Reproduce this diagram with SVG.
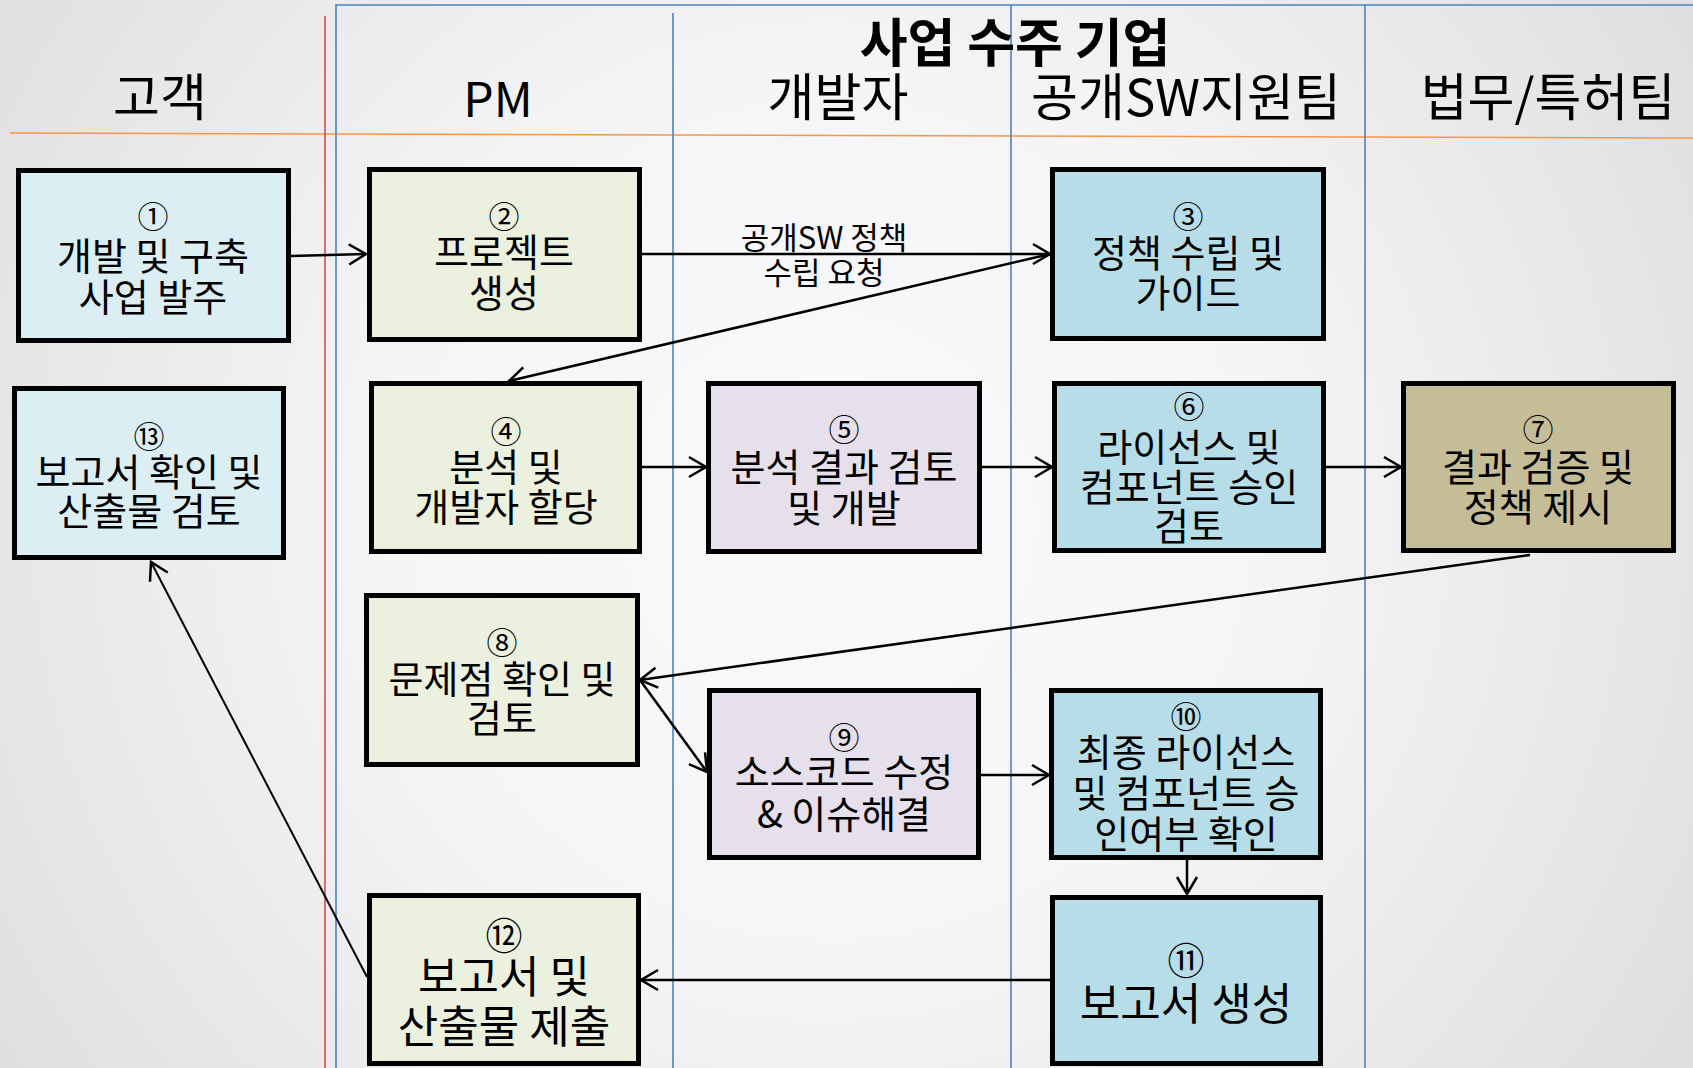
<svg xmlns="http://www.w3.org/2000/svg" width="1693" height="1068" viewBox="0 0 1693 1068">
<defs>
<radialGradient id="bg" cx="830" cy="520" r="1000" gradientUnits="userSpaceOnUse">
<stop offset="0" stop-color="#fafafc"/>
<stop offset="0.45" stop-color="#f5f5f7"/>
<stop offset="1" stop-color="#dfdfe1"/>
</radialGradient>
<marker id="arr" markerUnits="userSpaceOnUse" orient="auto" markerWidth="40" markerHeight="40" refX="0" refY="0" overflow="visible">
<path d="M-17,-10 L0,0 L-17,10" fill="none" stroke="#000" stroke-width="2.5" stroke-linejoin="miter"/>
</marker>
</defs>
<style>
text{font-family:"Noto Sans CJK KR","Noto Sans",sans-serif;fill:#000;text-anchor:middle}
.hd{font-size:51px}
.pm{font-size:48px}
.tt{font-size:52px;font-weight:bold}
.t{font-size:38px}
.n{font-size:31px}
.tb{font-size:44px}
.nb{font-size:37px}
.lbl{font-size:31px}
.box{stroke:#000;stroke-width:5}
.c{fill:none;stroke:#000;stroke-width:2.5;marker-end:url(#arr)}
.lane{fill:none;stroke-width:1.6}
</style>
<rect x="0" y="0" width="1693" height="1068" fill="url(#bg)"/>

<g id="lanes">
<line class="lane" x1="10" y1="133" x2="1693" y2="138" stroke="#f79646" stroke-width="2.2"/>
<line class="lane" x1="325" y1="16" x2="325" y2="1068" stroke="#d0504d"/>
<polyline class="lane" points="336,1068 336,5 1693,5" stroke="#4f81bd"/>
<line class="lane" x1="673" y1="13" x2="673" y2="1068" stroke="#4f81bd"/>
<line class="lane" x1="1011" y1="5" x2="1011" y2="1068" stroke="#4f81bd"/>
<line class="lane" x1="1365" y1="5" x2="1365" y2="1068" stroke="#4f81bd"/>
</g>

<g id="headers">
<text class="tt" x="1015" y="62">사업 수주 기업</text>
<text class="hd" x="160" y="116">고객</text>
<text class="pm" x="498" y="117">PM</text>
<text class="hd" x="838" y="116">개발자</text>
<text class="hd" x="1186" y="116">공개SW지원팀</text>
<text class="hd" x="1548" y="116">법무/특허팀</text>
</g>

<g id="connectors">
<line class="c" x1="291" y1="256" x2="366" y2="254"/>
<line class="c" x1="642" y1="254" x2="1050" y2="254"/>
<line class="c" x1="1050" y1="254" x2="509" y2="381"/>
<line class="c" x1="642" y1="467" x2="706" y2="467"/>
<line class="c" x1="982" y1="467" x2="1052" y2="467"/>
<line class="c" x1="1326" y1="467" x2="1401" y2="467"/>
<line class="c" x1="1530" y1="555" x2="640" y2="680"/>
<line class="c" x1="640" y1="680" x2="707" y2="772"/>
<line class="c" x1="981" y1="775" x2="1049" y2="775"/>
<line class="c" x1="1187" y1="860" x2="1187" y2="894"/>
<line class="c" x1="1050" y1="980" x2="641" y2="980"/>
<line class="c" x1="367" y1="977" x2="151" y2="562" style="stroke-width:2"/>
<text class="lbl" x="824" y="249">공개SW 정책</text>
<text class="lbl" x="824" y="284">수립 요청</text>
</g>

<g id="n1">
<rect class="box" x="18.5" y="170.5" width="270" height="170" fill="#dbeef4"/>
<text class="n" x="153" y="228">①</text>
<text class="t" x="153" y="270">개발 및 구축</text>
<text class="t" x="153" y="311">사업 발주</text>
</g>
<g id="n2">
<rect class="box" x="369.5" y="169.5" width="270" height="170" fill="#ebf1de"/>
<text class="n" x="504" y="228">②</text>
<text class="t" x="504" y="266">프로젝트</text>
<text class="t" x="504" y="307">생성</text>
</g>
<g id="n3">
<rect class="box" x="1052.5" y="169.5" width="271" height="169" fill="#b7dde8"/>
<text class="n" x="1188" y="228">③</text>
<text class="t" x="1188" y="267">정책 수립 및</text>
<text class="t" x="1188" y="307">가이드</text>
</g>
<g id="n13">
<rect class="box" x="14.5" y="388.5" width="269" height="169" fill="#dbeef4"/>
<text class="n" x="149" y="448">⑬</text>
<text class="t" x="149" y="486">보고서 확인 및</text>
<text class="t" x="149" y="525">산출물 검토</text>
</g>
<g id="n4">
<rect class="box" x="371.5" y="383.5" width="268" height="168" fill="#ebf1de"/>
<text class="n" x="506" y="443">④</text>
<text class="t" x="506" y="481">분석 및</text>
<text class="t" x="506" y="521">개발자 할당</text>
</g>
<g id="n5">
<rect class="box" x="708.5" y="383.5" width="271" height="168" fill="#e5e0ec"/>
<text class="n" x="844" y="441">⑤</text>
<text class="t" x="844" y="481">분석 결과 검토</text>
<text class="t" x="844" y="522">및 개발</text>
</g>
<g id="n6">
<rect class="box" x="1054.5" y="383.5" width="269" height="167" fill="#b7dde8"/>
<text class="n" x="1189" y="418">⑥</text>
<text class="t" x="1189" y="461">라이선스 및</text>
<text class="t" x="1189" y="501">컴포넌트 승인</text>
<text class="t" x="1189" y="540">검토</text>
</g>
<g id="n7">
<rect class="box" x="1403.5" y="383.5" width="270" height="167" fill="#c4bd97"/>
<text class="n" x="1538" y="441">⑦</text>
<text class="t" x="1538" y="481">결과 검증 및</text>
<text class="t" x="1538" y="521">정책 제시</text>
</g>
<g id="n8">
<rect class="box" x="366.5" y="595.5" width="271" height="169" fill="#ebf1de"/>
<text class="n" x="502" y="654">⑧</text>
<text class="t" x="502" y="693">문제점 확인 및</text>
<text class="t" x="502" y="732">검토</text>
</g>
<g id="n9">
<rect class="box" x="709.5" y="690.5" width="269" height="167" fill="#e5e0ec"/>
<text class="n" x="844" y="749">⑨</text>
<text class="t" x="844" y="786">소스코드 수정</text>
<text class="t" x="844" y="828">&amp; 이슈해결</text>
</g>
<g id="n10">
<rect class="box" x="1051.5" y="690.5" width="269" height="167" fill="#b7dde8"/>
<text class="n" x="1186" y="728">⑩</text>
<text class="t" x="1186" y="766">최종 라이선스</text>
<text class="t" x="1186" y="807">및 컴포넌트 승</text>
<text class="t" x="1186" y="848">인여부 확인</text>
</g>
<g id="n11">
<rect class="box" x="1052.5" y="897.5" width="268" height="166" fill="#b7dde8"/>
<text class="nb" x="1186" y="975">⑪</text>
<text class="tb" x="1186" y="1020">보고서 생성</text>
</g>
<g id="n12">
<rect class="box" x="369.5" y="895.5" width="269" height="168" fill="#ebf1de"/>
<text class="nb" x="504" y="950">⑫</text>
<text class="tb" x="504" y="993">보고서 및</text>
<text class="tb" x="504" y="1043">산출물 제출</text>
</g>
</svg>
